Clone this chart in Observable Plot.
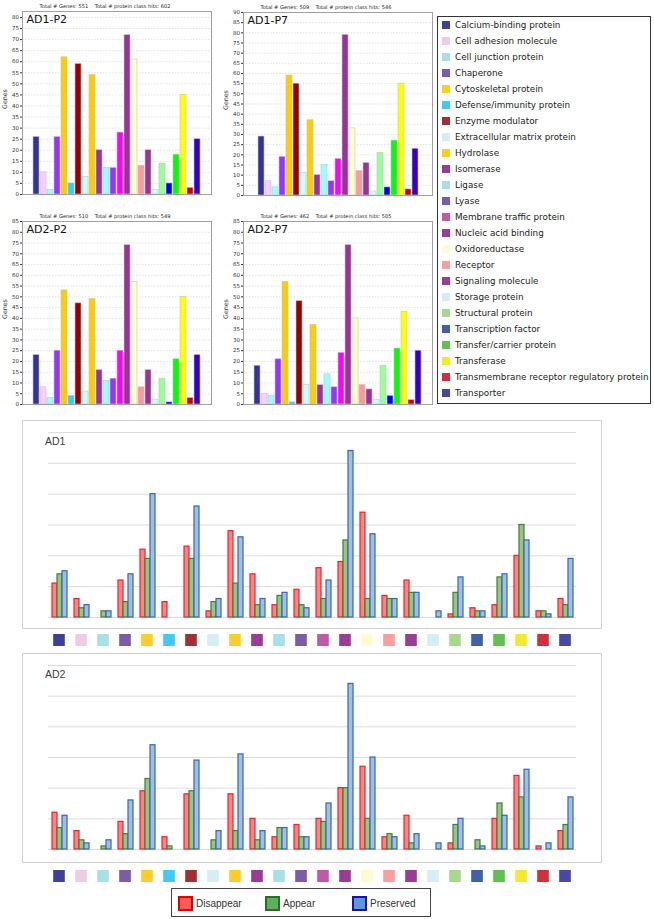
<!DOCTYPE html>
<html><head><meta charset="utf-8">
<script src="https://cdn.jsdelivr.net/npm/d3@7"></script>
<script src="https://cdn.jsdelivr.net/npm/@observablehq/plot@0.6"></script>
<style>
body{margin:0;background:#fff;}
#root{position:relative;width:654px;height:919px;overflow:hidden;background:#fff;font-family:"DejaVu Sans",sans-serif;}
.abs{position:absolute;}
.leg-row{position:absolute;left:4px;height:16px;display:flex;align-items:center;font-size:8.8px;color:#222;white-space:nowrap;}
.leg-sw{width:8px;height:8px;margin-right:5px;flex:none;}
.bl-item{position:absolute;top:7px;display:flex;align-items:center;font-family:"Liberation Sans",Arial,sans-serif;font-size:10px;color:#333;}
.bl-sw{width:11px;height:11px;border:2px solid;margin-right:3px;}
</style></head><body><div id="root"></div>
<script>
const categories = ["Calcium-binding protein","Cell adhesion molecule","Cell junction protein","Chaperone","Cytoskeletal protein","Defense/immunity protein","Enzyme modulator","Extracellular matrix protein","Hydrolase","Isomerase","Ligase","Lyase","Membrane traffic protein","Nucleic acid binding","Oxidoreductase","Receptor","Signaling molecule","Storage protein","Structural protein","Transcription factor","Transfer/carrier protein","Transferase","Transmembrane receptor regulatory protein","Transporter"];
const panelColors = ["#333399","#ffccff","#99ffff","#9933ff","#ffcc00","#33ccff","#990000","#ccffff","#ffcc00","#993399","#99ffff","#9933ff","#ff00ff","#993399","#ffffcc","#ff9999","#993399","#ccffff","#99ff99","#0000ff","#00ff00","#ffff00","#cc0000","#3300cc"];
const swatchColors = ["#3f3f96","#f0cce4","#a8dfe8","#7b5ca8","#ffcc2a","#44c8f4","#a03034","#d4eef4","#ffcc2a","#9a3c96","#a8dfe8","#7b5ca8","#c05aa8","#9a3c96","#fdfbd0","#f8a0a0","#9a3c96","#d4eef4","#a8d890","#4060a8","#60c050","#f4e830","#d0303c","#4848a0"];

const ad1p2 = [26,10,2,26,62,5,59,8,54,20,12,12,28,72,61,13,20,2,14,5,18,45,3,25];
const ad1p7 = [29,7,4,19,59,0,55,11,37,10,15,7,18,79,33,12,16,2,21,4,27,55,3,23];
const ad2p2 = [23,8,3,25,53,4,47,6,49,16,11,12,25,74,57,8,16,2,12,1,21,50,3,23];
const ad2p7 = [18,5,4,21,57,1,48,9,37,9,14,8,24,74,40,9,7,2,18,4,26,43,2,25];

const ad1Disappear = [11,6,0,12,22,5,23,2,28,14,4,9,16,18,34,7,12,0,1,3,4,20,2,6];
const ad1Appear    = [14,3,2,5,19,0,19,5,11,4,7,4,6,25,6,6,8,0,8,2,13,30,2,4];
const ad1Preserved = [15,4,2,14,40,0,36,6,26,6,8,3,12,54,27,6,8,2,13,2,14,25,1,19];
const ad2Disappear = [12,6,0,9,19,4,18,0,18,10,4,8,10,20,27,4,11,0,2,0,10,24,1,6];
const ad2Appear    = [7,3,1,5,23,1,19,3,6,3,7,4,9,20,10,5,2,0,8,3,15,17,0,8];
const ad2Preserved = [11,2,3,16,34,0,29,6,31,6,7,4,15,54,30,4,5,2,10,1,11,26,2,17];

const smallTicks = [0,5,10,15,20,25,30,35,40,45,50,55,60,65,70,75,80,85,90];
const bigGrid = [0,10,20,30,40,50,60];
const seriesNames = ["Disappear","Appear","Preserved"];
const seriesFill = {Disappear:"#ff8484", Appear:"#9cc47e", Preserved:"#9dbfe8"};
const seriesStroke = {Disappear:"#e5262f", Appear:"#3f7f3c", Preserved:"#3a64b4"};

const root = document.getElementById("root");
function place(el, left, top) {
  el.style.position = "absolute"; el.style.left = left + "px"; el.style.top = top + "px";
  root.appendChild(el); return el;
}
const gap = "\u00a0\u00a0\u00a0\u00a0";

function smallPanel(title, header, values, domainTop, tickMax) {
  const rows = categories.map((c, i) => ({cat: c, value: values[i], color: panelColors[i]})).filter(d => d.value > 0);
  const ticks = smallTicks.filter(t => t <= tickMax);
  return Plot.plot({
    width: 215, height: 200, marginLeft: 22, marginRight: 4, marginTop: 11, marginBottom: 6,
    style: {fontFamily: "DejaVu Sans, sans-serif", fontSize: "5.5px", background: "transparent", color: "#333", overflow: "visible"},
    x: {domain: rows.map(d => d.cat), paddingInner: 0.18, paddingOuter: 0.1, insetLeft: 8, insetRight: 8, axis: null},
    y: {domain: [0, domainTop], ticks: ticks, tickSize: 2, tickPadding: 1.5, label: null},
    color: {type: "identity"},
    marks: [
      Plot.ruleY(ticks.filter(t => t > 0), {stroke: "#cfcfcf", strokeDasharray: "1.5,1.5", strokeWidth: 0.6}),
      Plot.barY(rows, {x: "cat", y: "value", fill: "color", stroke: "#c4c4c4", strokeWidth: 0.6}),
      Plot.frame({stroke: "#a0a0a0"}),
      Plot.text([title], {frameAnchor: "top-left", dx: 4, dy: 4, textAnchor: "start", lineAnchor: "top", fontSize: 11, fill: "#111"}),
      Plot.text(["Genes"], {frameAnchor: "left", dx: -18, dy: 6, rotate: -90, fontSize: 6.3, fill: "#333"}),
      Plot.text([header], {frameAnchor: "top", dx: -12, dy: -7, fontSize: 5.1, fill: "#222"})
    ]
  });
}

place(smallPanel("AD1-P2", "Total # Genes: 551" + gap + "Total # protein class hits: 602", ad1p2, 82.7, 80), 0, 0);
place(smallPanel("AD1-P7", "Total # Genes: 509" + gap + "Total # protein class hits: 546", ad1p7, 90, 90), 221, 1);
place(smallPanel("AD2-P2", "Total # Genes: 510" + gap + "Total # protein class hits: 549", ad2p2, 85, 85), 0, 210);
place(smallPanel("AD2-P7", "Total # Genes: 462" + gap + "Total # protein class hits: 505", ad2p7, 85, 85), 221, 210);

// legend box
const leg = document.createElement("div");
leg.style.cssText = "width:214px;height:388px;border:1px solid #333;box-sizing:border-box;background:#fff;";
categories.forEach((c, i) => {
  const r = document.createElement("div");
  r.className = "leg-row";
  r.style.top = (i * 16) + "px";
  r.innerHTML = `<span class="leg-sw" style="background:${swatchColors[i]}"></span><span>${c}</span>`;
  leg.appendChild(r);
});
place(leg, 437, 16);

function bigPanel(D, A, P, h, mt, mb) {
  const arrs = {Disappear: D, Appear: A, Preserved: P};
  const rows = [];
  categories.forEach((c, i) => seriesNames.forEach(s => rows.push({cat: c, series: s, value: arrs[s][i]})));
  return Plot.plot({
    width: 578, height: h, marginLeft: 20, marginRight: 21, marginTop: mt, marginBottom: mb,
    style: {background: "transparent"},
    fx: {domain: categories, paddingInner: 0, paddingOuter: 0, axis: null, label: null},
    x: {domain: seriesNames, paddingInner: 0, paddingOuter: 0.45, axis: null},
    y: {domain: [0, 60], axis: null},
    marks: [
      Plot.ruleY(bigGrid, {stroke: "#dcdcdc", strokeWidth: 1}),
      ...seriesNames.map(s => Plot.barY(rows.filter(r => r.series === s && r.value > 0),
        {fx: "cat", x: "series", y: "value", fill: seriesFill[s], stroke: seriesStroke[s], strokeWidth: 1.2}))
    ]
  });
}
function swatchRow() {
  return Plot.plot({
    width: 578, height: 12, marginLeft: 20, marginRight: 21, marginTop: 0, marginBottom: 0,
    style: {background: "transparent"},
    x: {domain: categories, padding: 0, axis: null},
    color: {type: "identity"},
    marks: [Plot.cell(categories.map((c, i) => ({cat: c, color: swatchColors[i]})), {x: "cat", fill: "color", insetLeft: 5.2, insetRight: 5.2})]
  });
}
function border(left, top, w, h) {
  const b = document.createElement("div");
  b.style.cssText = `width:${w}px;height:${h}px;border:1px solid #d2d2d2;box-sizing:border-box;`;
  place(b, left, top);
}
function label(txt, left, top) {
  const d = document.createElement("div");
  d.textContent = txt;
  d.style.cssText = "font-family:'Liberation Sans',Arial,sans-serif;font-size:10.5px;color:#404040;line-height:12px;";
  place(d, left, top);
}

border(22, 420, 580, 209);
place(bigPanel(ad1Disappear, ad1Appear, ad1Preserved, 207, 11, 11), 23, 421);
label("AD1", 45, 435);
place(swatchRow(), 23, 634);

border(22, 653, 580, 210);
place(bigPanel(ad2Disappear, ad2Appear, ad2Preserved, 208, 11, 13), 23, 654);
label("AD2", 45, 668);
place(swatchRow(), 23, 870);

// bottom legend
const bl = document.createElement("div");
bl.style.cssText = "width:260px;height:29px;border:1px solid #444;box-sizing:border-box;background:#fff;";
const blItems = [["Disappear", 6, "#ff5a5a", "#e00000"], ["Appear", 93, "#5caf5c", "#2a6e2a"], ["Preserved", 180, "#5d95e0", "#1515a0"]];
blItems.forEach(([name, x, f, s]) => {
  const it = document.createElement("div");
  it.className = "bl-item";
  it.style.left = x + "px";
  it.innerHTML = `<span class="bl-sw" style="background:${f};border-color:${s}"></span><span>${name}</span>`;
  bl.appendChild(it);
});
place(bl, 171, 888);
</script></body></html>
